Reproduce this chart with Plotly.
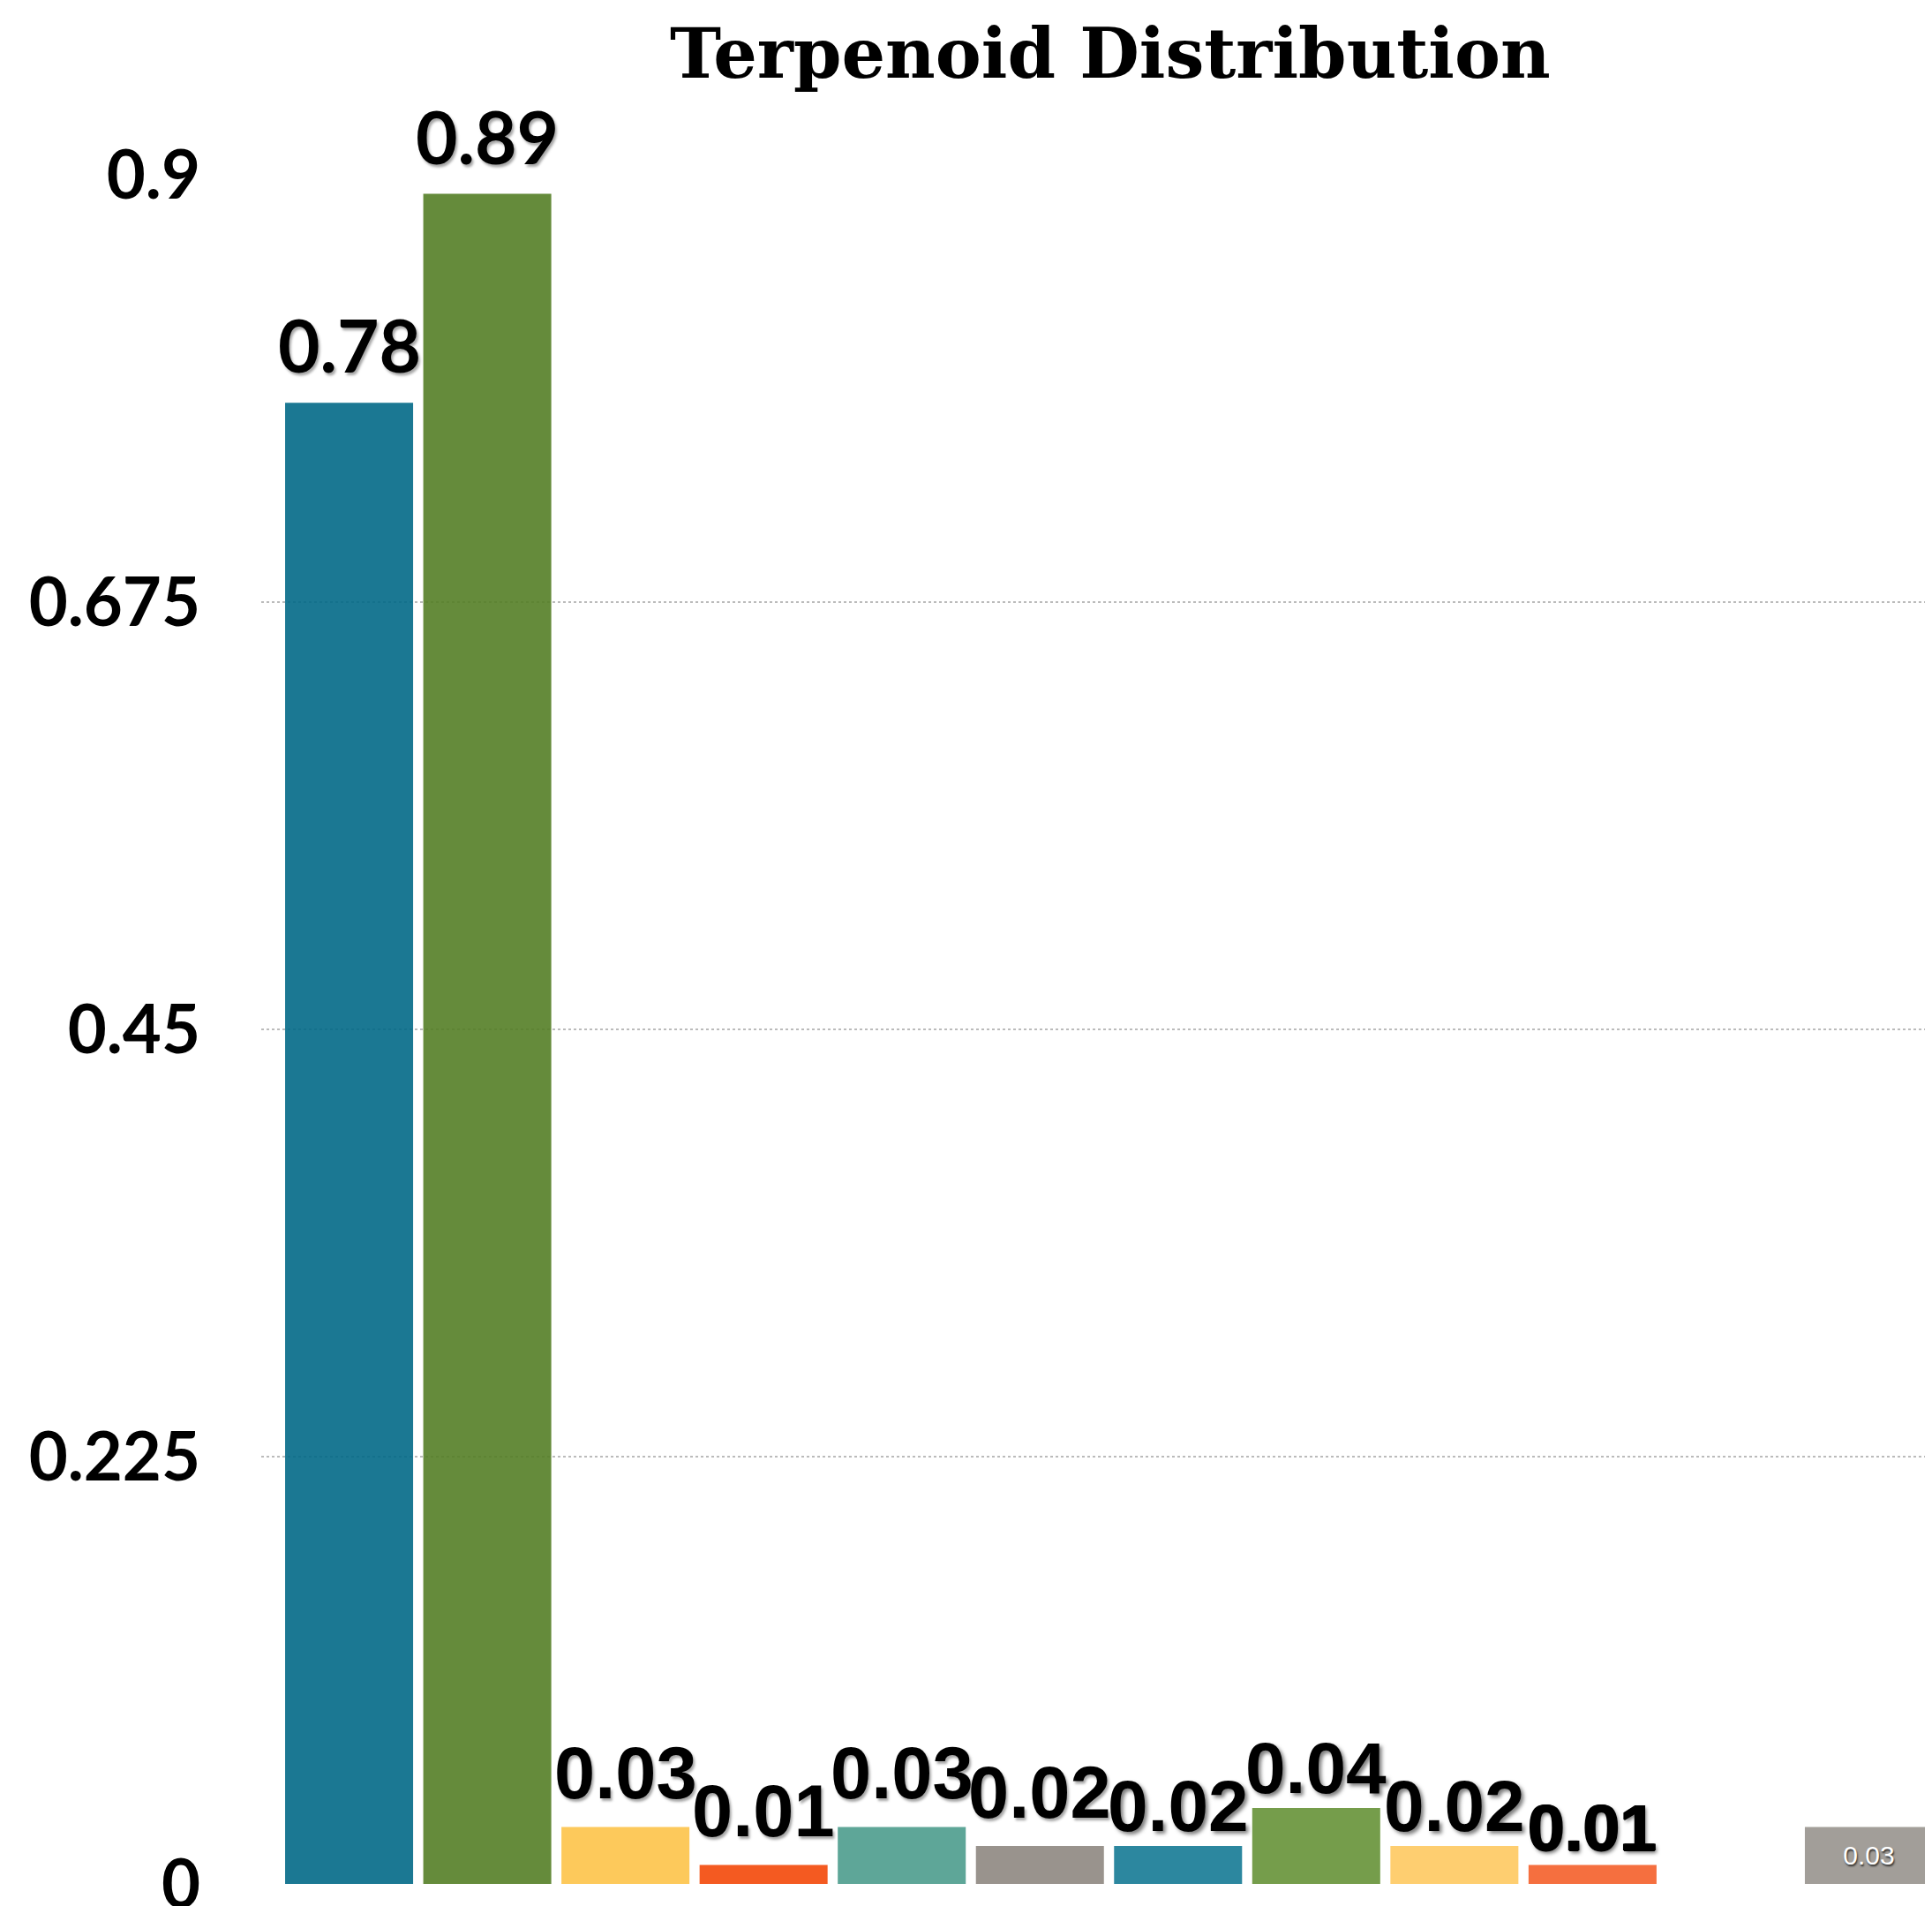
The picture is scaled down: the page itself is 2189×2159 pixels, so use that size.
import plotly.graph_objects as go

# ---- data ----
categories = ["Group 1", "Group 2", "Group 3", "Group 4", "Group 5", "Group 6",
              "Group 7", "Group 8", "Group 9", "Group 10", "Group 11", "Group 12"]
values = [0.78, 0.89, 0.03, 0.01, 0.03, 0.02, 0.02, 0.04, 0.02, 0.01, None, 0.03]
value_labels = ["0.78", "0.89", "0.03", "0.01", "0.03", "0.02", "0.02", "0.04",
                "0.02", "0.01", None, "0.03"]
tick_vals = [0, 0.225, 0.45, 0.675, 0.9]
tick_text = ["0", "0.225", "0.45", "0.675", "0.9"]
title_text = "Terpenoid Distribution"

# ---- styles ----
bar_colors = ["#026987", "#547E26", "#FDC349", "#F34809", "#4D9C8D", "#8E8781",
              "#157A95", "#669237", "#FEC960", "#F45F2A", "#98938E", "#98938E"]
# label style group per bar
label_style = ["big", "big", "mid", "mid", "mid", "mid", "mid2", "mid2", "mid2",
               "heavy", None, "inside"]
styles = {
    "big": dict(family="Lato", size=82, weight="bold",
                shadow="2px 3px 3px rgba(0,0,0,0.35)", yshift=15),
    "mid": dict(family="Liberation Sans", size=83, weight="bold",
                shadow="2px 3px 3px rgba(0,0,0,0.35)", yshift=12),
    "mid2": dict(family="Liberation Sans", size=82, weight="bold",
                 shadow="3px 3px 4px rgba(0,0,0,0.5)", yshift=-2),
    "heavy": dict(family="Liberation Sans", size=75, weight="bold",
                  shadow="1px 0px 0px #000, -1px 0px 0px #000, 0px 1px 0px #000, 2px 3px 4px rgba(0,0,0,0.55)",
                  yshift=-2),
}

inside_text = [lab if st == "inside" else None for lab, st in zip(value_labels, label_style)]

fig = go.Figure()
fig.add_trace(go.Bar(
    x=categories,
    y=values,
    marker=dict(color=bar_colors, opacity=0.9, line=dict(width=0)),
    text=inside_text,
    textposition="inside",
    insidetextanchor="middle",
    textfont=dict(family="Liberation Sans", size=30, color="white",
                  shadow="1px 2px 2px rgba(0,0,0,0.7)"),
    cliponaxis=False,
    hoverinfo="skip",
))

annotations = []
for cat, val, lab, st in zip(categories, values, value_labels, label_style):
    if val is None or st is None or st == "inside":
        continue
    s = styles[st]
    annotations.append(dict(
        x=cat, y=val, xref="x", yref="y",
        text=lab, showarrow=False,
        xanchor="center", yanchor="bottom",
        yshift=s["yshift"],
        font=dict(family=s["family"], size=s["size"], weight=s["weight"],
                  color="black", shadow=s["shadow"]),
    ))

fig.update_layout(
    width=2181, height=2151,
    margin=dict(l=288, r=0, t=190, b=25, pad=0, autoexpand=False),
    paper_bgcolor="white", plot_bgcolor="white",
    showlegend=False,
    bargap=0.0735,
    title=dict(text=title_text, x=0.5731, xref="container", xanchor="center",
               y=0.988, yref="container", yanchor="top",
               font=dict(family="DejaVu Serif", size=78, weight="bold", color="black")),
    annotations=annotations,
    xaxis=dict(showticklabels=False, showgrid=False, zeroline=False, showline=False,
               ticks="", range=[-0.636, 11.457], automargin=False),
    yaxis=dict(range=[0, 0.9], tickvals=tick_vals, ticktext=tick_text,
               showgrid=True, gridcolor="#BBBBBB", gridwidth=2, griddash="dot",
               zeroline=False, showline=False, ticks="", automargin=False,
               ticklabelstandoff=68, ticklabeloverflow="allow",
               tickfont=dict(family="Lato", size=76, weight="bold", color="black")),
)

fig.write_html("out.html")
